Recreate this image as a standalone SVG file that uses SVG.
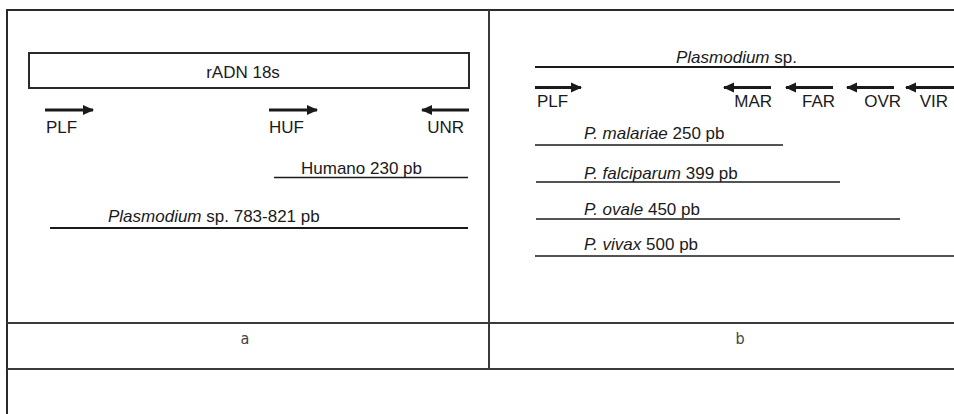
<svg xmlns="http://www.w3.org/2000/svg" width="954" height="414" viewBox="0 0 954 414">
<defs>
<marker id="ah" markerUnits="userSpaceOnUse" markerWidth="12" markerHeight="11" refX="10" refY="5.5" orient="auto">
<path d="M0,0.5 L11,5.5 L0,10.5 Z" fill="#1a1a1a"/>
</marker>
<style>
.frame{stroke:#2a2a2a;stroke-width:2;fill:none}
.grid{stroke:#3a3a3a;stroke-width:2;fill:none}
.seg{stroke:#1a1a1a;stroke-width:1.6;fill:none}
.arr{stroke:#1a1a1a;stroke-width:3.2;fill:none;marker-end:url(#ah)}
.t{font-family:"Liberation Sans",Arial,sans-serif;font-size:17px;fill:#1a1a1a}
.i{font-style:italic}
.cap{font-family:"DejaVu Sans Condensed","DejaVu Sans",sans-serif;font-stretch:condensed;font-size:16px;fill:#444;text-anchor:middle}
</style>
</defs>
<rect width="954" height="414" fill="#fff"/>
<g id="table">
<line class="frame" x1="7" y1="10" x2="954" y2="10"/>
<line class="frame" x1="7" y1="9" x2="7" y2="414"/>
<line class="grid" x1="489" y1="10" x2="489" y2="369"/>
<line class="grid" x1="7" y1="323" x2="954" y2="323"/>
<line class="grid" x1="7" y1="369" x2="954" y2="369"/>
<text class="cap" x="245" y="344">a</text>
<text class="cap" x="740" y="344">b</text>
</g>
<g id="panel-a">
<g id="gene">
<rect x="29" y="53" width="440" height="35" class="frame"/>
<text class="t" x="243" y="78" text-anchor="middle">rADN 18s</text>
</g>
<g id="primer-PLF-a">
<line class="arr" x1="45" y1="110" x2="93" y2="110"/>
<text class="t" x="46" y="133">PLF</text>
</g>
<g id="primer-HUF">
<line class="arr" x1="269" y1="110" x2="317" y2="110"/>
<text class="t" x="269" y="133">HUF</text>
</g>
<g id="primer-UNR">
<line class="arr" x1="469" y1="110" x2="422" y2="110"/>
<text class="t" x="464" y="133" text-anchor="end">UNR</text>
</g>
<g id="humano">
<text class="t" x="301" y="174">Humano 230 pb</text>
<line class="seg" x1="274" y1="177.5" x2="468" y2="177.5"/>
</g>
<g id="plasmodium-a">
<text class="t" x="108" y="222"><tspan class="i">Plasmodium</tspan> sp. 783-821 pb</text>
<line class="seg" x1="50" y1="228" x2="468" y2="228" style="stroke-width:2"/>
</g>
</g>
<g id="panel-b">
<g id="plasmodium-b">
<text class="t" x="676" y="63"><tspan class="i">Plasmodium</tspan> sp.</text>
<line class="seg" x1="535" y1="67" x2="954" y2="67" style="stroke-width:2"/>
</g>
<g id="primer-PLF-b">
<line class="arr" x1="535" y1="87.5" x2="581" y2="87.5"/>
<text class="t" x="537" y="107">PLF</text>
</g>
<g id="primer-MAR">
<line class="arr" x1="771" y1="87.5" x2="724" y2="87.5"/>
<text class="t" x="772" y="107" text-anchor="end">MAR</text>
</g>
<g id="primer-FAR">
<line class="arr" x1="833" y1="87.5" x2="786" y2="87.5"/>
<text class="t" x="835" y="107" text-anchor="end">FAR</text>
</g>
<g id="primer-OVR">
<line class="arr" x1="894" y1="87.5" x2="847" y2="87.5"/>
<text class="t" x="901" y="107" text-anchor="end">OVR</text>
</g>
<g id="primer-VIR">
<line class="arr" x1="954" y1="87.5" x2="906" y2="87.5"/>
<text class="t" x="948" y="107" text-anchor="end">VIR</text>
</g>
<g id="malariae">
<text class="t" x="584" y="139"><tspan class="i">P. malariae</tspan> 250 pb</text>
<line class="seg" x1="535" y1="145" x2="783" y2="145"/>
</g>
<g id="falciparum">
<text class="t" x="584" y="179"><tspan class="i">P. falciparum</tspan> 399 pb</text>
<line class="seg" x1="536" y1="182" x2="840" y2="182"/>
</g>
<g id="ovale">
<text class="t" x="584" y="215"><tspan class="i">P. ovale</tspan> 450 pb</text>
<line class="seg" x1="536" y1="219" x2="900" y2="219"/>
</g>
<g id="vivax">
<text class="t" x="584" y="250"><tspan class="i">P. vivax</tspan> 500 pb</text>
<line class="seg" x1="535" y1="256" x2="954" y2="256"/>
</g>
</g>
</svg>
